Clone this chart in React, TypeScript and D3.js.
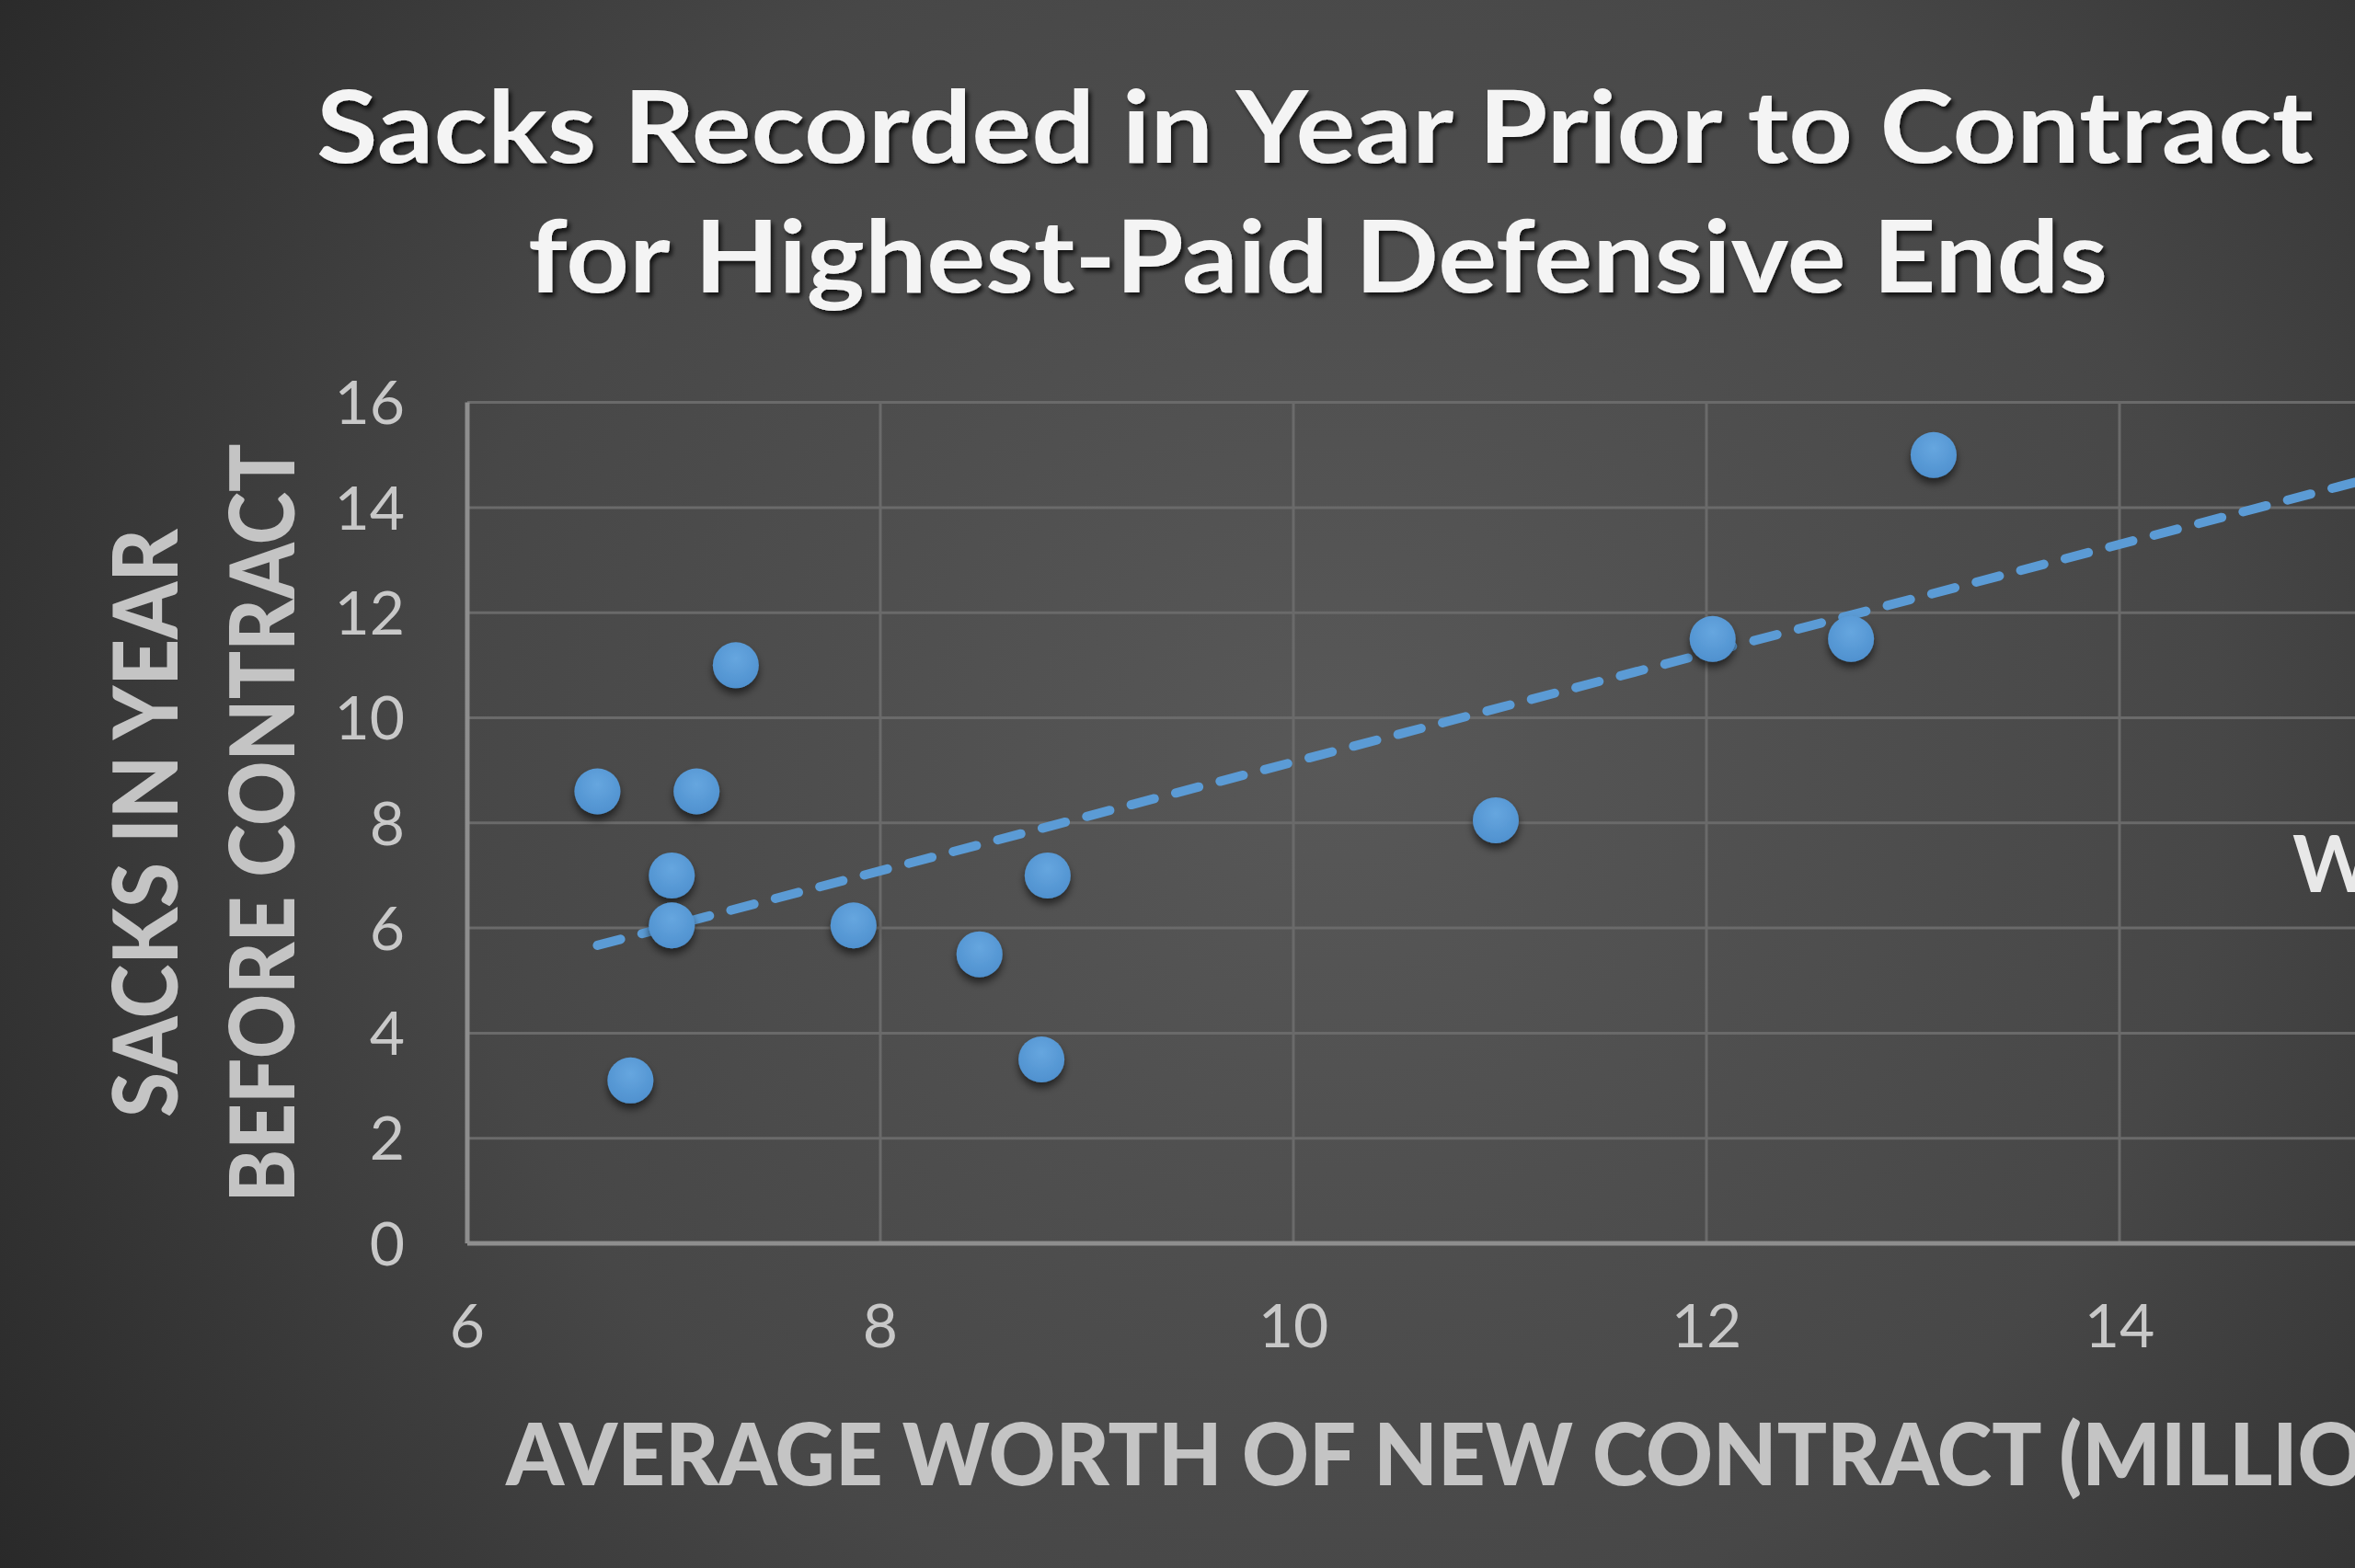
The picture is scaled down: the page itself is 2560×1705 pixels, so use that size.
import * as d3 from "d3";

// values
const contractMillions = [6.63, 6.79, 6.99, 6.99, 7.11, 7.3, 7.87, 8.48, 8.81, 8.78, 10.98, 12.03, 12.7, 13.1];
const sacksBefore = [8.6, 3.1, 7.0, 6.05, 8.6, 11.0, 6.05, 5.5, 7.0, 3.5, 8.05, 11.5, 11.5, 15.0];

// dashed linear trendline (Excel) – end points as seen on the chart
const trendX = [6.63, 16];
const trendY = [5.67, 15.37];

const xTicks = [6, 8, 10, 12, 14, 16];
const yTicks = [0, 2, 4, 6, 8, 10, 12, 14, 16];

const titleLines = ["Sacks Recorded in Year Prior to Contract", "for Highest-Paid Defensive Ends"];
const yTitleLines = ["SACKS IN YEAR", "BEFORE CONTRACT"];
const xTitle = "AVERAGE WORTH OF NEW CONTRACT (MILLIONS)";

const W = 2560;
const H = 1705;
const FONT = "Lato, 'Open Sans', sans-serif";

const App = () => {
  const x = d3.scaleLinear().domain([6, 16]).range([508, 2753]);
  const y = d3.scaleLinear().domain([0, 16]).range([1352, 437.6]);

  const points = contractMillions.map((c, i) => ({ c, s: sacksBefore[i] }));
  const trend = d3
    .line<number>()
    .x((d) => x(d))
    .y((_, i) => y(trendY[i]));

  return (
    <svg
      width={W}
      height={H}
      viewBox={`0 0 ${W} ${H}`}
      style={{ position: "absolute", left: 0, top: 0, display: "block" }}
    >
      <defs>
        <radialGradient id="bg" gradientUnits="userSpaceOnUse" cx={1450} cy={820} r={1750}>
          <stop offset="0" stopColor="#585858" />
          <stop offset="0.55" stopColor="#474747" />
          <stop offset="1" stopColor="#272727" />
        </radialGradient>
        <filter id="titleShadow" x="-5%" y="-20%" width="110%" height="150%">
          <feDropShadow dx="3" dy="4" stdDeviation="2.5" floodColor="#000" floodOpacity="0.75" />
        </filter>
        <filter id="dotShadow" x="-50%" y="-50%" width="200%" height="220%">
          <feDropShadow dx="0" dy="6" stdDeviation="4" floodColor="#000" floodOpacity="0.55" />
        </filter>
        <radialGradient id="dot" cx="0.5" cy="0.35" r="0.65">
          <stop offset="0" stopColor="#66a6df" />
          <stop offset="1" stopColor="#4f91cf" />
        </radialGradient>
      </defs>

      <rect x={0} y={0} width={W} height={H} fill="url(#bg)" />

      {/* title */}
      <g fill="#f4f4f4" fontFamily={FONT} fontWeight={700} fontSize={110} filter="url(#titleShadow)">
        <text x={344} y={177} textLength={2171} lengthAdjust="spacingAndGlyphs">
          {titleLines[0]}
        </text>
        <text x={574} y={318} textLength={1717} lengthAdjust="spacingAndGlyphs">
          {titleLines[1]}
        </text>
      </g>

      {/* gridlines */}
      <g stroke="#6a6a6a" strokeWidth={3}>
        {yTicks.slice(1).map((t) => (
          <line key={"h" + t} x1={x(6)} x2={x(16)} y1={y(t)} y2={y(t)} />
        ))}
        {xTicks.slice(1).map((t) => (
          <line key={"v" + t} x1={x(t)} x2={x(t)} y1={y(16)} y2={y(0)} />
        ))}
      </g>

      {/* axis lines */}
      <g stroke="#8e8e8e" strokeWidth={5}>
        <line x1={x(6)} x2={x(6)} y1={y(16)} y2={y(0)} />
        <line x1={x(6)} x2={x(16)} y1={y(0)} y2={y(0)} />
      </g>

      {/* tick labels */}
      <g fill="#c8c8c8" fontFamily={FONT} fontSize={66}>
        {yTicks.map((t) => (
          <text key={"yl" + t} x={440} y={y(t)} textAnchor="end" dy="0.36em">
            {t}
          </text>
        ))}
        {xTicks.map((t) => (
          <text key={"xl" + t} x={x(t)} y={1465} textAnchor="middle">
            {t}
          </text>
        ))}
      </g>

      {/* axis titles */}
      <g fill="#c4c4c4" fontFamily={FONT} fontWeight={900} fontSize={98}>
        <text
          transform="translate(193,895) rotate(-90)"
          textAnchor="middle"
          textLength={640}
          lengthAdjust="spacingAndGlyphs"
        >
          {yTitleLines[0]}
        </text>
        <text
          transform="translate(320,895) rotate(-90)"
          textAnchor="middle"
          textLength={825}
          lengthAdjust="spacingAndGlyphs"
        >
          {yTitleLines[1]}
        </text>
        <text x={550} y={1615} fontSize={94} textLength={2165} lengthAdjust="spacingAndGlyphs">
          {xTitle}
        </text>
      </g>

      {/* trendline */}
      <path
        d={trend(trendX) || ""}
        fill="none"
        stroke="#5b9bd5"
        strokeWidth={10}
        strokeDasharray="26 24"
        strokeLinecap="round"
      />

      {/* points */}
      <g filter="url(#dotShadow)">
        {points.map((p, i) => (
          <circle key={i} cx={x(p.c)} cy={y(p.s)} r={25} fill="url(#dot)" />
        ))}
      </g>

      {/* label cut off at the right edge */}
      <text x={2492} y={970} fill="#e8e8e8" fontFamily={FONT} fontWeight={700} fontSize={86}>
        W
      </text>
    </svg>
  );
};

export default App;
